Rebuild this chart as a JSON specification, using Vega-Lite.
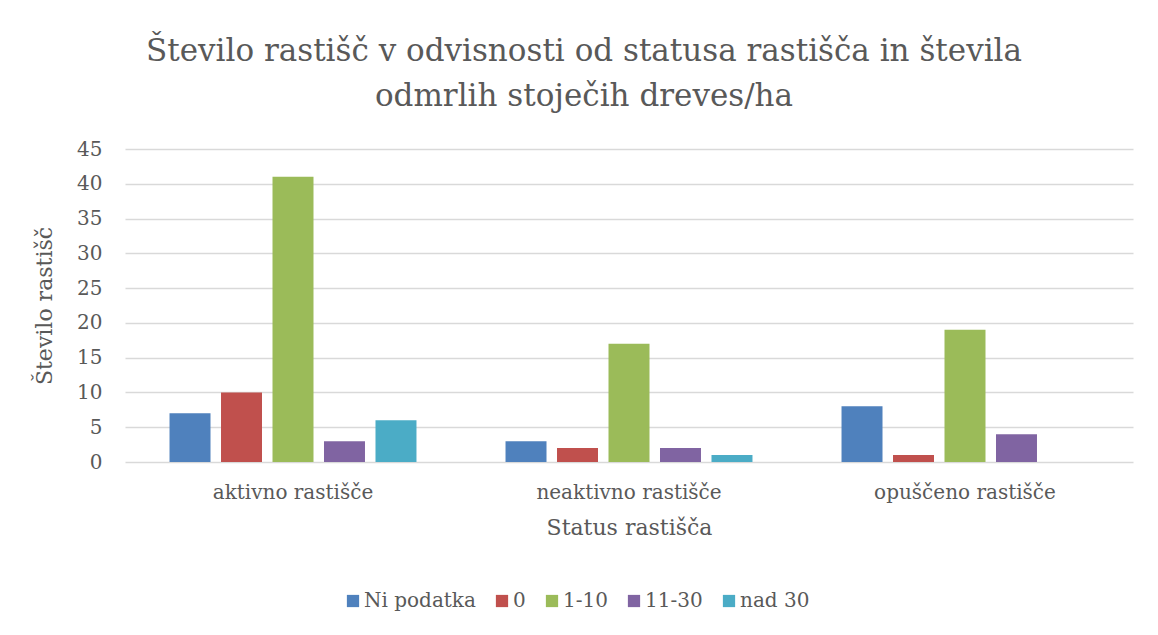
{
  "$schema": "https://vega.github.io/schema/vega-lite/v6.json",
  "autosize": {"type": "none"},
  "width": 1008,
  "height": 313,
  "padding": {"left": 125, "top": 149, "right": 25, "bottom": 173},
  "background": "white",
  "title": {
    "text": ["Število rastišč v odvisnosti od statusa rastišča in števila", "odmrlih stoječih dreves/ha"],
    "font": "DejaVu Serif",
    "fontSize": 31,
    "fontWeight": "normal",
    "color": "#595959",
    "anchor": "middle",
    "dx": -45,
    "offset": 26,
    "lineHeight": 45
  },
  "data": {
    "values": [
      {"status": "aktivno rastišče", "razred": "Ni podatka", "n": 7},
      {"status": "aktivno rastišče", "razred": "0", "n": 10},
      {"status": "aktivno rastišče", "razred": "1-10", "n": 41},
      {"status": "aktivno rastišče", "razred": "11-30", "n": 3},
      {"status": "aktivno rastišče", "razred": "nad 30", "n": 6},
      {"status": "neaktivno rastišče", "razred": "Ni podatka", "n": 3},
      {"status": "neaktivno rastišče", "razred": "0", "n": 2},
      {"status": "neaktivno rastišče", "razred": "1-10", "n": 17},
      {"status": "neaktivno rastišče", "razred": "11-30", "n": 2},
      {"status": "neaktivno rastišče", "razred": "nad 30", "n": 1},
      {"status": "opuščeno rastišče", "razred": "Ni podatka", "n": 8},
      {"status": "opuščeno rastišče", "razred": "0", "n": 1},
      {"status": "opuščeno rastišče", "razred": "1-10", "n": 19},
      {"status": "opuščeno rastišče", "razred": "11-30", "n": 4}
    ]
  },
  "mark": {"type": "bar"},
  "encoding": {
    "x": {
      "field": "status",
      "type": "nominal",
      "sort": null,
      "title": "Status rastišča",
      "scale": {"paddingInner": 0.265, "paddingOuter": 0.1325},
      "axis": {
        "labelAngle": 0,
        "domain": false,
        "ticks": false,
        "labelPadding": 20,
        "labelFontSize": 20,
        "labelLimit": 400,
        "titleFontSize": 22,
        "titlePadding": 15
      }
    },
    "xOffset": {
      "field": "razred",
      "type": "nominal",
      "sort": ["Ni podatka", "0", "1-10", "11-30", "nad 30"],
      "scale": {"paddingInner": 0.204, "paddingOuter": 0}
    },
    "y": {
      "field": "n",
      "type": "quantitative",
      "title": "Število rastišč",
      "scale": {"domain": [0, 45], "nice": false},
      "axis": {
        "values": [0, 5, 10, 15, 20, 25, 30, 35, 40, 45],
        "domain": false,
        "ticks": false,
        "labelPadding": 23,
        "labelFontSize": 20,
        "titleFontSize": 22,
        "titlePadding": 20,
        "gridColor": "#D9D9D9",
        "gridWidth": 1.3
      }
    },
    "color": {
      "field": "razred",
      "type": "nominal",
      "sort": ["Ni podatka", "0", "1-10", "11-30", "nad 30"],
      "scale": {
        "domain": ["Ni podatka", "0", "1-10", "11-30", "nad 30"],
        "range": ["#4F81BD", "#C0504D", "#9BBB59", "#8064A2", "#4BACC6"]
      },
      "legend": {
        "title": null,
        "orient": "none",
        "direction": "horizontal",
        "legendX": 218,
        "legendY": 442,
        "symbolType": "square",
        "symbolSize": 150,
        "symbolStrokeWidth": 0,
        "symbolOpacity": 1,
        "labelFontSize": 20,
        "labelOffset": 1,
        "columnPadding": 16
      }
    }
  },
  "config": {
    "font": "DejaVu Serif",
    "view": {"stroke": null},
    "axis": {
      "labelColor": "#595959",
      "titleColor": "#595959",
      "labelFont": "DejaVu Serif",
      "titleFont": "DejaVu Serif",
      "titleFontWeight": "normal"
    },
    "legend": {
      "labelColor": "#595959",
      "labelFont": "DejaVu Serif"
    }
  }
}
